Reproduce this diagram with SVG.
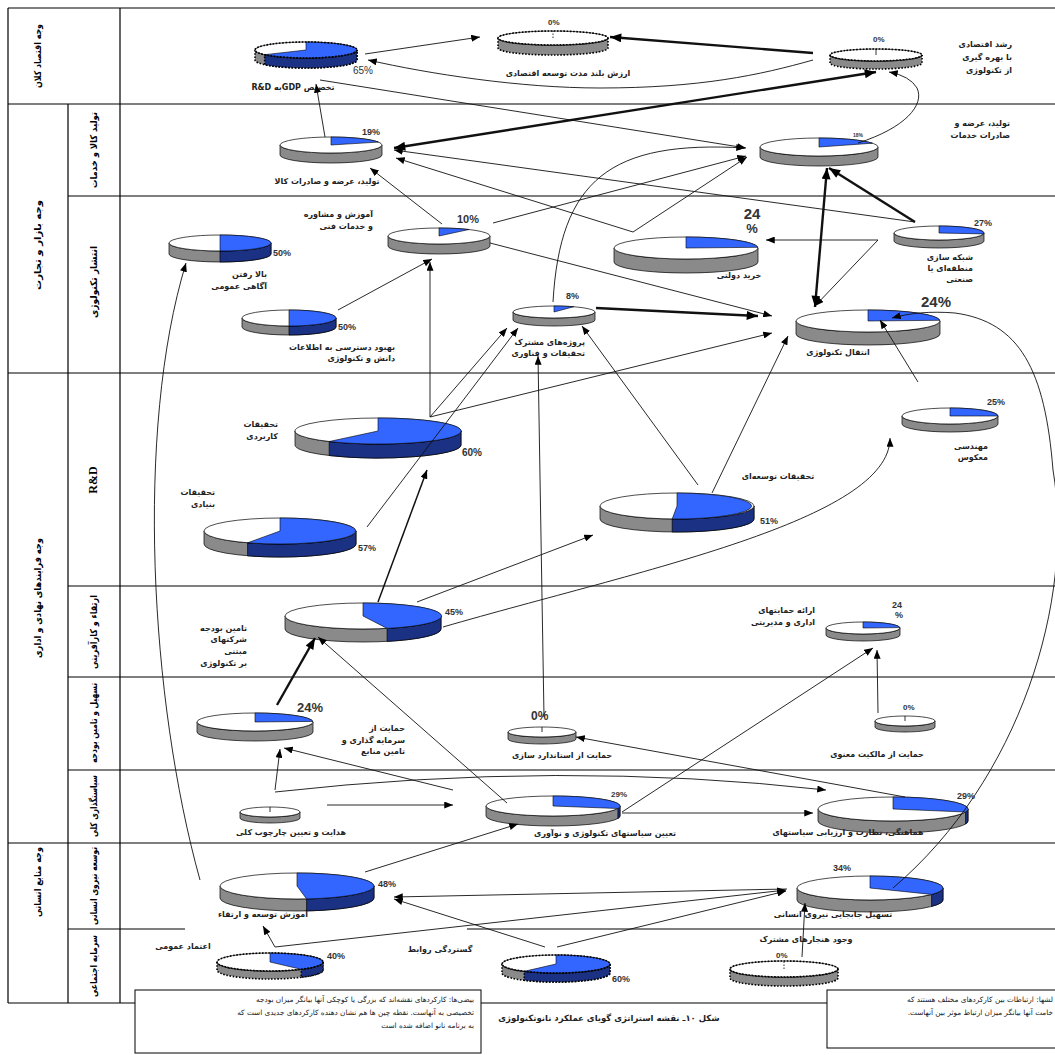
<svg xmlns="http://www.w3.org/2000/svg" width="1055" height="1055" viewBox="0 0 1055 1055">
<style>
.bg{fill:#fff}
.gl{stroke:#000;stroke-width:1.2;fill:none}
.side{fill:#8a8a8a;stroke:#000;stroke-width:0.7}
.bside{fill:#1b3184;stroke:#000;stroke-width:0.7}
.top{fill:#fff;stroke:#000;stroke-width:0.7}
.wedge{fill:#3366ff;stroke:#000;stroke-width:0.6}
.dt{stroke-dasharray:1.6 1.6;stroke-width:1.6}
.ol{fill:none;stroke:#000;stroke-width:1.6;stroke-dasharray:1.6 1.6}
.tick{stroke:#000;stroke-width:0.8}
.ln{fill:none;stroke:#111;stroke-width:0.9}
.tk{stroke-width:2.4}
.md{stroke-width:1.5}
.fa{font-family:"DejaVu Sans","Noto Sans",sans-serif;font-size:8px;font-weight:bold;fill:#222}
.fm{text-anchor:middle}
.fe{text-anchor:start}
.pc{font-family:"Liberation Sans",Arial,sans-serif;font-size:9px;font-weight:bold;fill:#333}
.hd{font-family:"DejaVu Sans",sans-serif;font-size:9.5px;font-weight:bold;fill:#000;text-anchor:middle}
.bx{fill:#fff;stroke:#000;stroke-width:1}
.bt{font-family:"DejaVu Sans",sans-serif;font-size:7.3px;fill:#222}
</style>
<defs>
<marker id="ah" viewBox="0 0 10 8" refX="10" refY="4" markerWidth="9" markerHeight="7" markerUnits="userSpaceOnUse" orient="auto-start-reverse"><path d="M0,0 L10,4 L0,8 z" fill="#000"/></marker>
<marker id="ahb" viewBox="0 0 10 8" refX="10" refY="4" markerWidth="12" markerHeight="9" markerUnits="userSpaceOnUse" orient="auto-start-reverse"><path d="M0,0 L10,4 L0,8 z" fill="#000"/></marker>
</defs>
<rect class="bg" x="0" y="0" width="1055" height="1055"/>

<g id="grid">
<path class="gl" d="M8,8 H1055 M8,104 H1055 M68,196 H1055 M8,373 H1055 M68,586 H1055 M68,677 H1055 M68,770 H1055 M8,843 H1055 M68,929 H185 M467,929 H1055 M8,1003 H1055"/>
<path class="gl" d="M8,8 V1003 M68,104 V1003 M120,8 V1003"/>
<text class="hd" transform="translate(38,56) rotate(-90)" dominant-baseline="middle" textLength="64" lengthAdjust="spacingAndGlyphs">وجه اقتصاد کلان</text>
<text class="hd" transform="translate(38,245) rotate(-90)" dominant-baseline="middle" textLength="90" lengthAdjust="spacingAndGlyphs">وجه بازار و تجارت</text>
<text class="hd" transform="translate(94,150) rotate(-90)" dominant-baseline="middle" textLength="76" lengthAdjust="spacingAndGlyphs">تولید کالا و خدمات</text>
<text class="hd" transform="translate(94,282) rotate(-90)" dominant-baseline="middle" textLength="72" lengthAdjust="spacingAndGlyphs">انتشار تکنولوژی</text>
<text class="hd" transform="translate(94,480) rotate(-90)" dominant-baseline="middle" style="font-family:'Liberation Serif',serif;font-size:12px">R&amp;D</text>
<text class="hd" transform="translate(38,598) rotate(-90)" dominant-baseline="middle" textLength="120" lengthAdjust="spacingAndGlyphs">وجه فرایندهای نهادی و اداری</text>
<text class="hd" transform="translate(94,632) rotate(-90)" dominant-baseline="middle" textLength="74" lengthAdjust="spacingAndGlyphs">ارتقاء و کارآفرینی</text>
<text class="hd" transform="translate(94,723) rotate(-90)" dominant-baseline="middle" textLength="80" lengthAdjust="spacingAndGlyphs">تسهیل و تامین بودجه</text>
<text class="hd" transform="translate(94,806) rotate(-90)" dominant-baseline="middle" textLength="62" lengthAdjust="spacingAndGlyphs">سیاستگذاری کلی</text>
<text class="hd" transform="translate(38,882) rotate(-90)" dominant-baseline="middle" textLength="70" lengthAdjust="spacingAndGlyphs">وجه منابع انسانی</text>
<text class="hd" transform="translate(94,886) rotate(-90)" dominant-baseline="middle" textLength="78" lengthAdjust="spacingAndGlyphs">توسعه نیروی انسانی</text>
<text class="hd" transform="translate(94,966) rotate(-90)" dominant-baseline="middle" textLength="62" lengthAdjust="spacingAndGlyphs">سرمایه اجتماعی</text>
</g>

<g id="n-gdp">
<path class="side dt" d="M255,50 L255,60 A51,8 0 0 0 357,60 L357,50 A51,8 0 0 1 255,50Z"/>
<path class="bside dt" d="M357,50 A51,8 0 0 1 264.7,54.7 L264.7,64.7 A51,8 0 0 0 357,60Z"/>
<ellipse class="top" cx="306" cy="50" rx="51" ry="8" stroke="none"/>
<path class="wedge" stroke="none" d="M306,50 L306,42 A51,8 0 1 1 264.7,54.7Z"/>
<ellipse class="ol" cx="306" cy="50" rx="51" ry="8"/>
<text class="pc" x="353" y="74" style="font-size:10px;font-weight:normal">65%</text>
<text class="fa fm" x="293" y="90" direction="rtl">تخصیص GDPبه R&amp;D</text>
</g>

<g id="n-value">
<path class="side dt" d="M498,38 L498,48 A55,7 0 0 0 608,48 L608,38 A55,7 0 0 1 498,38Z"/>
<ellipse class="top" cx="553" cy="38" rx="55" ry="7" stroke="none"/>
<ellipse class="ol" cx="553" cy="38" rx="55" ry="7"/>
<line class="tick" x1="553" y1="38" x2="553" y2="31" stroke-dasharray="1.5 1.5"/>
<text class="pc" x="548" y="25" style="font-size:8px">0%</text>
<text class="fa fm" x="568" y="76" direction="rtl">ارزش بلند مدت توسعه اقتصادی</text>
</g>

<g id="n-growth">
<path class="side dt" d="M830,55 L830,63 A46,6 0 0 0 922,63 L922,55 A46,6 0 0 1 830,55Z"/>
<ellipse class="top" cx="876" cy="55" rx="46" ry="6" stroke="none"/>
<ellipse class="ol" cx="876" cy="55" rx="46" ry="6"/>
<line class="tick" x1="876" y1="55" x2="876" y2="49"/>
<text class="pc" x="873" y="42" style="font-size:8px">0%</text>
<text class="fa fe" x="1012" y="47" direction="rtl">رشد اقتصادی</text>
<text class="fa fe" x="1012" y="60" direction="rtl">با بهره گیری</text>
<text class="fa fe" x="1012" y="73" direction="rtl">از تکنولوژی</text>
</g>

<g id="n-goods">
<path class="side" d="M280,145 L280,155 A51,8 0 0 0 382,155 L382,145 A51,8 0 0 1 280,145Z"/>
<ellipse class="top" cx="331" cy="145" rx="51" ry="8"/>
<path class="wedge" d="M331,145 L331,137 A51,8 0 0 1 378.4,142.1Z"/>
<text class="pc" x="362" y="135">19%</text>
<text class="fa fm" x="327" y="184" direction="rtl">تولید، عرضه  و صادرات کالا</text>
</g>

<g id="n-services">
<path class="side" d="M760,147 L760,157 A59,9 0 0 0 878,157 L878,147 A59,9 0 0 1 760,147Z"/>
<ellipse class="top" cx="819" cy="147" rx="59" ry="9"/>
<path class="wedge" d="M819,147 L819,138 A59,9 0 0 1 872.4,143.2Z"/>
<text class="pc" x="853" y="137" style="font-size:5px">18%</text>
<text class="fa fe" x="1010" y="126" direction="rtl">تولید، عرضه و</text>
<text class="fa fe" x="1010" y="138" direction="rtl">صادرات خدمات</text>
</g>

<g id="n-consult">
<path class="side" d="M388,236 L388,246 A51,8 0 0 0 490,246 L490,236 A51,8 0 0 1 388,236Z"/>
<ellipse class="top" cx="439" cy="236" rx="51" ry="8"/>
<path class="wedge" d="M439,236 L439,228 A51,8 0 0 1 469,229.5Z"/>
<text class="pc" x="457" y="223" style="font-size:11px">10%</text>
<text class="fa fe" x="373" y="217" direction="rtl">آموزش و مشاوره</text>
<text class="fa fe" x="373" y="229" direction="rtl">و خدمات فنی</text>
</g>

<g id="n-awareness">
<path class="side" d="M169,243 L169,254 A51,8 0 0 0 271,254 L271,243 A51,8 0 0 1 169,243Z"/>
<path class="bside" d="M271,243 A51,8 0 0 1 220,251 L220,262 A51,8 0 0 0 271,254Z"/>
<ellipse class="top" cx="220" cy="243" rx="51" ry="8"/>
<path class="wedge" d="M220,243 L220,235 A51,8 0 0 1 220,251Z"/>
<text class="pc" x="273" y="256">50%</text>
<text class="fa fe" x="267" y="277" direction="rtl">بالا رفتن</text>
<text class="fa fe" x="267" y="289" direction="rtl">آگاهی عمومی</text>
</g>

<g id="n-access">
<path class="side" d="M242,318 L242,327 A47,8 0 0 0 336,327 L336,318 A47,8 0 0 1 242,318Z"/>
<path class="bside" d="M336,318 A47,8 0 0 1 289,326 L289,335 A47,8 0 0 0 336,327Z"/>
<ellipse class="top" cx="289" cy="318" rx="47" ry="8"/>
<path class="wedge" d="M289,318 L289,310 A47,8 0 0 1 289,326Z"/>
<text class="pc" x="338" y="330">50%</text>
<text class="fa fe" x="395" y="350" direction="rtl">بهبود دسترسی به اطلاعات</text>
<text class="fa fe" x="395" y="361" direction="rtl">دانش و تکنولوژی</text>
</g>

<g id="n-joint">
<path class="side" d="M513,312 L513,320 A41,6 0 0 0 595,320 L595,312 A41,6 0 0 1 513,312Z"/>
<ellipse class="top" cx="554" cy="312" rx="41" ry="6"/>
<path class="wedge" d="M554,312 L554,306 A41,6 0 0 1 573.8,306.7Z"/>
<text class="pc" x="566" y="299">8%</text>
<text class="fa fe" x="585" y="345" direction="rtl">پروژه‌های مشترک</text>
<text class="fa fe" x="585" y="356" direction="rtl">تحقیقات و فناوری</text>
</g>

<g id="n-procure">
<path class="side" d="M614,248 L614,262 A72,11 0 0 0 758,262 L758,248 A72,11 0 0 1 614,248Z"/>
<ellipse class="top" cx="686" cy="248" rx="72" ry="11"/>
<path class="wedge" d="M686,248 L686,237 A72,11 0 0 1 757.9,247.3Z"/>
<text class="pc fm" x="752" y="219" style="font-size:15px">24</text>
<text class="pc fm" x="752" y="233" style="font-size:13px">%</text>
<text class="fa fm" x="739" y="278" direction="rtl">خرید دولتی</text>
</g>

<g id="n-network">
<path class="side" d="M894,233 L894,241 A45,7 0 0 0 984,241 L984,233 A45,7 0 0 1 894,233Z"/>
<ellipse class="top" cx="939" cy="233" rx="45" ry="7"/>
<path class="wedge" d="M939,233 L939,226 A45,7 0 0 1 983.6,233.9Z"/>
<text class="pc" x="974" y="226">27%</text>
<text class="fa fe" x="973" y="260" direction="rtl">شبکه سازی</text>
<text class="fa fe" x="973" y="271" direction="rtl">منطقه‌ای یا</text>
<text class="fa fe" x="973" y="282" direction="rtl">صنعتی</text>
</g>

<g id="n-transfer">
<path class="side" d="M796,321 L796,334 A72,11 0 0 0 940,334 L940,321 A72,11 0 0 1 796,321Z"/>
<ellipse class="top" cx="868" cy="321" rx="72" ry="11"/>
<path class="wedge" d="M868,321 L868,310 A72,11 0 0 1 939.9,320.3Z"/>
<text class="pc" x="921" y="307" style="font-size:15px">24%</text>
<text class="fa fm" x="838" y="355" direction="rtl">انتقال تکنولوژی</text>
</g>

<g id="n-applied">
<path class="side" d="M295,431 L295,445 A83,13 0 0 0 461,445 L461,431 A83,13 0 0 1 295,431Z"/>
<path class="bside" d="M461,431 A83,13 0 0 1 329.2,441.5 L329.2,455.5 A83,13 0 0 0 461,445Z"/>
<ellipse class="top" cx="378" cy="431" rx="83" ry="13"/>
<path class="wedge" d="M378,431 L378,418 A83,13 0 1 1 329.2,441.5Z"/>
<text class="pc" x="462" y="456" style="font-size:10px">60%</text>
<text class="fa fe" x="278" y="427" direction="rtl">تحقیقات</text>
<text class="fa fe" x="278" y="439" direction="rtl">کاربردی</text>
</g>

<g id="n-basic">
<path class="side" d="M204,531 L204,544 A76,13 0 0 0 356,544 L356,531 A76,13 0 0 1 204,531Z"/>
<path class="bside" d="M356,531 A76,13 0 0 1 247.6,542.8 L247.6,555.8 A76,13 0 0 0 356,544Z"/>
<ellipse class="top" cx="280" cy="531" rx="76" ry="13"/>
<path class="wedge" d="M280,531 L280,518 A76,13 0 1 1 247.6,542.8Z"/>
<text class="pc" x="358" y="551">57%</text>
<text class="fa fe" x="215" y="495" direction="rtl">تحقیقات</text>
<text class="fa fe" x="215" y="507" direction="rtl">بنیادی</text>
</g>

<g id="n-develop">
<path class="side" d="M600,506 L600,519 A77,13 0 0 0 754,519 L754,506 A77,13 0 0 1 600,506Z"/>
<path class="bside" d="M754,506 A77,13 0 0 1 672.2,519 L672.2,532 A77,13 0 0 0 754,519Z"/>
<ellipse class="top" cx="677" cy="506" rx="77" ry="13"/>
<path class="wedge" d="M677,506 L677,493 A77,13 0 1 1 672.2,519Z"/>
<text class="pc" x="760" y="524">51%</text>
<text class="fa fm" x="778" y="479" direction="rtl">تحقیقات توسعه‌ای</text>
</g>

<g id="n-reverse">
<path class="side" d="M902,416 L902,424 A48,8 0 0 0 998,424 L998,416 A48,8 0 0 1 902,416Z"/>
<ellipse class="top" cx="950" cy="416" rx="48" ry="8"/>
<path class="wedge" d="M950,416 L950,408 A48,8 0 0 1 998,416Z"/>
<text class="pc" x="987" y="405">25%</text>
<text class="fa fe" x="988" y="449" direction="rtl">مهندسی</text>
<text class="fa fe" x="988" y="460" direction="rtl">معکوس</text>
</g>

<g id="n-funding">
<path class="side" d="M285,616 L285,629 A78,13 0 0 0 441,629 L441,616 A78,13 0 0 1 285,616Z"/>
<path class="bside" d="M441,616 A78,13 0 0 1 387.1,628.4 L387.1,641.4 A78,13 0 0 0 441,629Z"/>
<ellipse class="top" cx="363" cy="616" rx="78" ry="13"/>
<path class="wedge" d="M363,616 L363,603 A78,13 0 0 1 387.1,628.4Z"/>
<text class="pc" x="445" y="615">45%</text>
<text class="fa fe" x="247" y="631" direction="rtl">تامین بودجه</text>
<text class="fa fe" x="247" y="642" direction="rtl">شرکتهای</text>
<text class="fa fe" x="247" y="654" direction="rtl">مبتنی</text>
<text class="fa fe" x="247" y="666" direction="rtl">بر تکنولوژی</text>
</g>

<g id="n-admin">
<path class="side" d="M826,628 L826,635 A37,6 0 0 0 900,635 L900,628 A37,6 0 0 1 826,628Z"/>
<ellipse class="top" cx="863" cy="628" rx="37" ry="6"/>
<path class="wedge" d="M863,628 L863,622 A37,6 0 0 1 899.9,627.6Z"/>
<text class="pc fm" x="897" y="608">24</text>
<text class="pc fm" x="899" y="618">%</text>
<text class="fa fe" x="815" y="613" direction="rtl">ارائه حمایتهای</text>
<text class="fa fe" x="815" y="625" direction="rtl">اداری و مدیریتی</text>
</g>

<g id="n-invest">
<path class="side" d="M197,722 L197,732 A58,9 0 0 0 313,732 L313,722 A58,9 0 0 1 197,722Z"/>
<ellipse class="top" cx="255" cy="722" rx="58" ry="9"/>
<path class="wedge" d="M255,722 L255,713 A58,9 0 0 1 312.9,721.4Z"/>
<text class="pc" x="297" y="712" style="font-size:13px">24%</text>
<text class="fa fe" x="405" y="731" direction="rtl">حمایت از</text>
<text class="fa fe" x="405" y="743" direction="rtl">سرمایه گذاری و</text>
<text class="fa fe" x="405" y="754" direction="rtl">تامین منابع</text>
</g>

<g id="n-standard">
<path class="side" d="M508,732 L508,739 A34,5 0 0 0 576,739 L576,732 A34,5 0 0 1 508,732Z"/>
<ellipse class="top" cx="542" cy="732" rx="34" ry="5"/>
<line class="tick" x1="542" y1="732" x2="542" y2="727"/>
<text class="pc" x="531" y="720" style="font-size:12px">0%</text>
<text class="fa fm" x="562" y="758" direction="rtl">حمایت از استاندارد سازی</text>
</g>

<g id="n-ip">
<path class="side" d="M875,721 L875,727 A30,5 0 0 0 935,727 L935,721 A30,5 0 0 1 875,721Z"/>
<ellipse class="top" cx="905" cy="721" rx="30" ry="5"/>
<line class="tick" x1="905" y1="721" x2="905" y2="716"/>
<text class="pc" x="903" y="710" style="font-size:8px">0%</text>
<text class="fa fm" x="877" y="757" direction="rtl">حمایت از مالکیت معنوی</text>
</g>

<g id="n-guide">
<path class="side" d="M240,812 L240,818 A30,5 0 0 0 300,818 L300,812 A30,5 0 0 1 240,812Z"/>
<ellipse class="top" cx="270" cy="812" rx="30" ry="5"/>
<line class="tick" x1="270" y1="812" x2="270" y2="807"/>
<text class="fa fm" x="291" y="835" direction="rtl">هدایت و تعیین چارچوب کلی</text>
</g>

<g id="n-policy">
<path class="side" d="M486,806 L486,816 A67,10 0 0 0 620,816 L620,806 A67,10 0 0 1 486,806Z"/>
<path class="bside" d="M620,806 A67,10 0 0 1 617.9,808.5 L617.9,818.5 A67,10 0 0 0 620,816Z"/>
<ellipse class="top" cx="553" cy="806" rx="67" ry="10"/>
<path class="wedge" d="M553,806 L553,796 A67,10 0 0 1 617.9,808.5Z"/>
<text class="pc" x="611" y="797" style="font-size:8px">29%</text>
<text class="fa fm" x="605" y="836" direction="rtl">تعیین سیاستهای تکنولوژی و نوآوری</text>
</g>

<g id="n-coord">
<path class="side" d="M818,809 L818,821 A75,12 0 0 0 968,821 L968,809 A75,12 0 0 1 818,809Z"/>
<path class="bside" d="M968,809 A75,12 0 0 1 965.6,812 L965.6,824 A75,12 0 0 0 968,821Z"/>
<ellipse class="top" cx="893" cy="809" rx="75" ry="12"/>
<path class="wedge" d="M893,809 L893,797 A75,12 0 0 1 965.6,812Z"/>
<text class="pc" x="957" y="799">29%</text>
<text class="fa fm" x="848" y="835" direction="rtl">هماهنگی، نظارت و ارزیابی سیاستهای</text>
</g>

<g id="n-training">
<path class="side" d="M220,886 L220,898 A77,13 0 0 0 374,898 L374,886 A77,13 0 0 1 220,886Z"/>
<path class="bside" d="M374,886 A77,13 0 0 1 306.6,898.9 L306.6,910.9 A77,13 0 0 0 374,898Z"/>
<ellipse class="top" cx="297" cy="886" rx="77" ry="13"/>
<path class="wedge" d="M297,886 L297,873 A77,13 0 0 1 306.6,898.9Z"/>
<text class="pc" x="378" y="887">48%</text>
<text class="fa fm" x="263" y="917" direction="rtl">آموزش توسعه و ارتقاء</text>
</g>

<g id="n-mobility">
<path class="side" d="M797,888 L797,900 A73,12 0 0 0 943,900 L943,888 A73,12 0 0 1 797,888Z"/>
<path class="bside" d="M943,888 A73,12 0 0 1 931.6,894.4 L931.6,906.4 A73,12 0 0 0 943,900Z"/>
<ellipse class="top" cx="870" cy="888" rx="73" ry="12"/>
<path class="wedge" d="M870,888 L870,876 A73,12 0 0 1 931.6,894.4Z"/>
<text class="pc" x="833" y="871">34%</text>
<text class="fa fm" x="833" y="917" direction="rtl">تسهیل جابجایی نیروی انسانی</text>
</g>

<g id="n-trust">
<path class="side dt" d="M217,962 L217,970 A53,9 0 0 0 323,970 L323,962 A53,9 0 0 1 217,962Z"/>
<path class="bside dt" d="M323,962 A53,9 0 0 1 301.2,969.3 L301.2,977.3 A53,9 0 0 0 323,970Z"/>
<ellipse class="top" cx="270" cy="962" rx="53" ry="9" stroke="none"/>
<path class="wedge" stroke="none" d="M270,962 L270,953 A53,9 0 0 1 301.2,969.3Z"/>
<ellipse class="ol" cx="270" cy="962" rx="53" ry="9"/>
<text class="pc" x="327" y="959">40%</text>
<text class="fa fm" x="183" y="949" direction="rtl">اعتماد عمومی</text>
</g>

<g id="n-relations">
<path class="side dt" d="M502,964 L502,973 A54,9 0 0 0 610,973 L610,964 A54,9 0 0 1 502,964Z"/>
<path class="bside dt" d="M610,964 A54,9 0 0 1 524.3,971.3 L524.3,980.3 A54,9 0 0 0 610,973Z"/>
<ellipse class="top" cx="556" cy="964" rx="54" ry="9" stroke="none"/>
<path class="wedge" stroke="none" d="M556,964 L556,955 A54,9 0 1 1 524.3,971.3Z"/>
<ellipse class="ol" cx="556" cy="964" rx="54" ry="9"/>
<text class="pc" x="612" y="982">60%</text>
<text class="fa fm" x="440" y="952" direction="rtl">گستردگی روابط</text>
</g>

<g id="n-norms">
<path class="side dt" d="M730,969 L730,978 A54,8 0 0 0 838,978 L838,969 A54,8 0 0 1 730,969Z"/>
<ellipse class="top" cx="784" cy="969" rx="54" ry="8" stroke="none"/>
<ellipse class="ol" cx="784" cy="969" rx="54" ry="8"/>
<line class="tick" x1="784" y1="969" x2="784" y2="961" stroke-dasharray="1.5 1.5"/>
<text class="pc" x="776" y="958" style="font-size:8px">0%</text>
<text class="fa fm" x="806" y="942" direction="rtl">وجود هنجارهای مشترک</text>
</g>

<g id="connectors">
<path class="ln" marker-end="url(#ah)" d="M365,54 L480,37"/>
<path class="ln tk" marker-end="url(#ahb)" d="M813,53 L610,37"/>
<path class="ln" marker-end="url(#ah)" d="M813,60 C760,75 700,88 600,88 C520,88 430,74 368,60"/>
<path class="ln" marker-end="url(#ah)" d="M325,137 L316,84"/>
<path class="ln" marker-end="url(#ah)" d="M320,80 L746,148"/>
<path class="ln tk" marker-start="url(#ahb)" marker-end="url(#ahb)" d="M394,148 L876,72"/>
<path class="ln" marker-end="url(#ah)" d="M858,143 C905,128 925,105 917,88 Q910,76 889,72"/>
<path class="ln" marker-end="url(#ah)" d="M915,222 L394,150"/>
<path class="ln" marker-end="url(#ah)" d="M633,232 L396,158"/>
<path class="ln" marker-end="url(#ah)" d="M633,232 L747,157"/>
<path class="ln" marker-end="url(#ah)" d="M493,223 L746,156"/>
<path class="ln" marker-end="url(#ah)" d="M442,224 L370,168"/>
<path class="ln" marker-end="url(#ah)" d="M553,302 C560,180 610,140 745,148"/>
<path class="ln" marker-end="url(#ah)" d="M490,243 L772,316"/>
<path class="ln tk" marker-end="url(#ahb)" d="M596,308 L758,316"/>
<path class="ln" marker-end="url(#ah)" d="M878,240 L766,240"/>
<path class="ln" marker-end="url(#ah)" d="M878,240 L815,306"/>
<path class="ln tk" marker-end="url(#ahb)" d="M915,222 L829,168"/>
<path class="ln tk" marker-start="url(#ahb)" marker-end="url(#ahb)" d="M815,307 L827,168"/>
<path class="ln" marker-end="url(#ah)" d="M430,417 L772,333"/>
<path class="ln" marker-end="url(#ah)" d="M712,493 L788,336"/>
<path class="ln" marker-end="url(#ah)" d="M698,485 L582,326"/>
<path class="ln" marker-end="url(#ah)" d="M918,382 L880,320"/>
<path class="ln" marker-end="url(#ah)" d="M893,888 C1020,780 1075,600 1053,470 C1045,370 1020,322 955,313 C930,311 910,313 892,318"/>
<path class="ln" marker-end="url(#ah)" d="M430,417 L430,262"/>
<path class="ln" marker-end="url(#ah)" d="M338,310 L432,259"/>
<path class="ln" marker-end="url(#ah)" d="M430,417 L507,328"/>
<path class="ln" marker-end="url(#ah)" d="M367,527 L518,328"/>
<path class="ln" marker-end="url(#ah)" d="M544,717 L538,356"/>
<path class="ln" marker-end="url(#ah)" d="M200,880 C150,700 135,430 186,263"/>
<path class="ln md" marker-end="url(#ah)" d="M378,602 L427,470"/>
<path class="ln" marker-end="url(#ah)" d="M417,602 L593,535"/>
<path class="ln" marker-end="url(#ah)" d="M443,627 C640,570 890,520 890,438"/>
<path class="ln tk" marker-end="url(#ahb)" d="M277,705 L315,638"/>
<path class="ln" marker-end="url(#ah)" d="M507,803 L318,637"/>
<path class="ln" marker-end="url(#ah)" d="M622,812 L873,648"/>
<path class="ln" marker-end="url(#ah)" d="M878,713 L877,650"/>
<path class="ln" marker-end="url(#ah)" d="M275,790 L280,749"/>
<path class="ln" marker-end="url(#ah)" d="M275,792 Q560,760 826,790"/>
<path class="ln" marker-end="url(#ah)" d="M453,790 L284,748"/>
<path class="ln" marker-end="url(#ah)" d="M905,797 L576,737"/>
<path class="ln" marker-end="url(#ah)" d="M327,805 L453,805"/>
<path class="ln" marker-end="url(#ah)" d="M365,872 L518,824"/>
<path class="ln" marker-end="url(#ah)" d="M622,813 L813,813"/>
<path class="ln" marker-end="url(#ah)" d="M787,889 L394,897"/>
<path class="ln" marker-end="url(#ah)" d="M275,947 L786,890"/>
<path class="ln" marker-end="url(#ah)" d="M545,947 L394,899"/>
<path class="ln" marker-end="url(#ah)" d="M557,947 L786,891"/>
<path class="ln" marker-end="url(#ah)" d="M275,947 L263,926"/>
<path class="ln" marker-end="url(#ah)" d="M802,957 L805,903"/>
</g>

<g id="legend">
<rect class="bx" x="135" y="990" width="346" height="63"/>
<text class="bt" x="474" y="1002" direction="rtl" text-anchor="start">بیضی‌ها: کارکردهای نقشه‌اند که بزرگی یا کوچکی آنها بیانگر میزان بودجه</text>
<text class="bt" x="474" y="1015" direction="rtl" text-anchor="start">تخصیصی به آنهاست. نقطه چین ها هم نشان دهنده کارکردهای جدیدی است که</text>
<text class="bt" x="474" y="1028" direction="rtl" text-anchor="start">به برنامه نانو اضافه شده است</text>
<rect class="bx" x="827" y="990" width="240" height="58"/>
<text class="bt" x="1053" y="1002" direction="rtl" text-anchor="start">لشها: ارتباطات بین کارکردهای مختلف هستند که</text>
<text class="bt" x="1053" y="1015" direction="rtl" text-anchor="start">خامت آنها بیانگر میزان ارتباط موثر بین آنهاست.</text>
<text class="fa fm" x="609" y="1021" direction="rtl" style="font-size:8.5px">شکل ۱۰ـ نقشه استراتژی گویای عملکرد نانوتکنولوژی</text>
</g>
</svg>
